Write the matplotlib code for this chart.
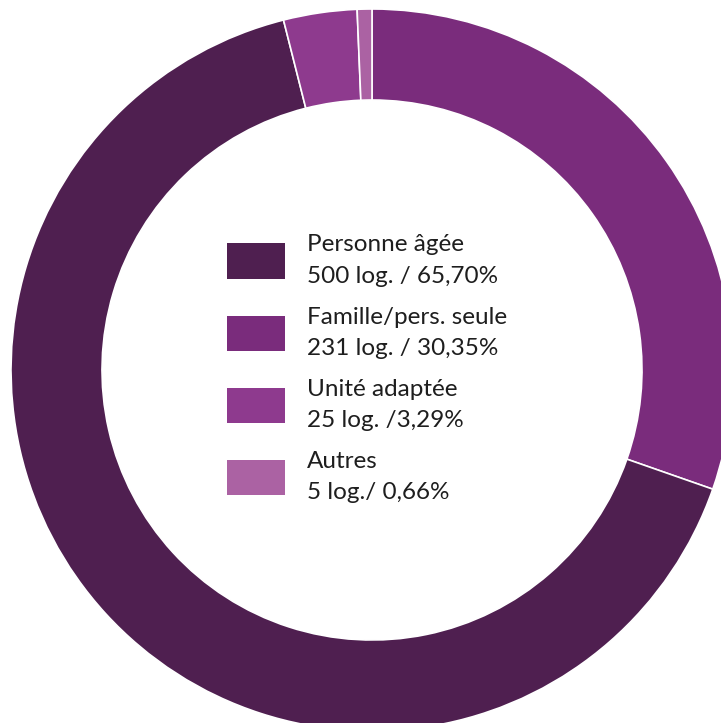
import matplotlib.pyplot as plt

# données (ordre de tracé, sens horaire depuis midi)
categories = ['Famille/pers. seule', 'Personne âgée', 'Unité adaptée', 'Autres']
logements = [231, 500, 25, 5]
legend_labels = {
    'Personne âgée': 'Personne âgée\n500 log. / 65,70%',
    'Famille/pers. seule': 'Famille/pers. seule\n231 log. / 30,35%',
    'Unité adaptée': 'Unité adaptée\n25 log. /3,29%',
    'Autres': 'Autres\n5 log./ 0,66%',
}
legend_order = ['Personne âgée', 'Famille/pers. seule', 'Unité adaptée', 'Autres']
colors = ['#7A2C7C', '#4F1F50', '#8E3A8E', '#AB62A3']

plt.rcParams['font.family'] = ['Lato', 'DejaVu Sans']

fig = plt.figure(figsize=(7.21, 7.23), dpi=100)
ax = fig.add_axes([0, 0, 1, 1])

wedges, _ = ax.pie(logements, colors=colors, startangle=90, counterclock=False,
                   radius=361, center=(372, 723 - 370),
                   wedgeprops=dict(width=91, edgecolor='white', linewidth=1.2))
ax.set_xlim(0, 721)
ax.set_ylim(0, 723)
ax.set_aspect('equal')
ax.axis('off')

handles = [wedges[categories.index(c)] for c in legend_order]
labels = [legend_labels[c] for c in legend_order]
leg = ax.legend(handles, labels, loc='center', bbox_to_anchor=(0.509, 0.49),
                frameon=False, fontsize=17.5, handlelength=2.4, handleheight=1.87,
                handletextpad=0.9, labelspacing=0.82, borderpad=0)
for p in leg.get_patches():
    p.set_edgecolor('none')
for t in leg.get_texts():
    t.set_color('#1e1e1e')
    t.set_linespacing(1.6)

fig.savefig('out.png', dpi=100)
